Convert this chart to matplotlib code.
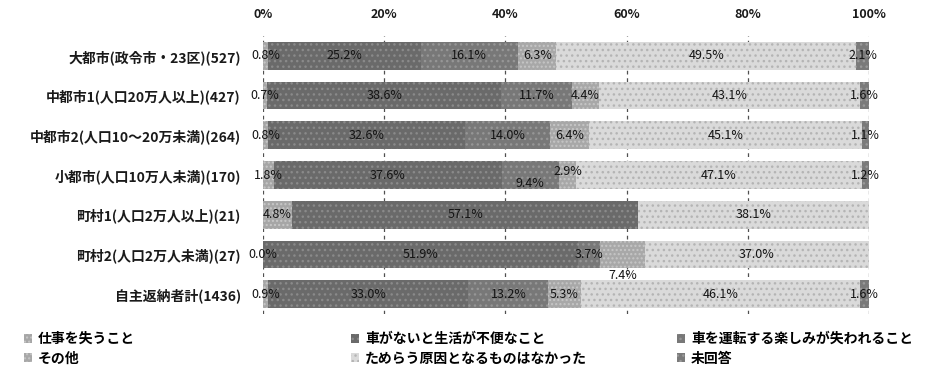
import numpy as np
import matplotlib
matplotlib.use('Agg')
import matplotlib.pyplot as plt
from matplotlib.patches import Patch

plt.rcParams['font.family'] = ['Noto Sans CJK JP', 'DejaVu Sans']

categories = ['大都市(政令市・23区)(527)', '中都市1(人口20万人以上)(427)',
              '中都市2(人口10～20万未満)(264)', '小都市(人口10万人未満)(170)',
              '町村1(人口2万人以上)(21)', '町村2(人口2万人未満)(27)',
              '自主返納者計(1436)']
series_names = ['仕事を失うこと', '車がないと生活が不便なこと', '車を運転する楽しみが失われること',
                'その他', 'ためらう原因となるものはなかった', '未回答']

# percent per category; nan = no answer in that group (no label drawn)
job_loss = [0.8, 0.7, 0.8, 1.8, 4.8, 0.0, 0.9]
inconvenient = [25.2, 38.6, 32.6, 37.6, 57.1, 51.9, 33.0]
lose_fun = [16.1, 11.7, 14.0, 9.4, np.nan, 3.7, 13.2]
other = [6.3, 4.4, 6.4, 2.9, np.nan, 7.4, 5.3]
no_hesitation = [49.5, 43.1, 45.1, 47.1, 38.1, 37.0, 46.1]
no_answer = [2.1, 1.6, 1.1, 1.2, np.nan, np.nan, 1.6]

xticks = [0, 20, 40, 60, 80, 100]

series = [job_loss, inconvenient, lose_fun, other, no_hesitation, no_answer]
face = ['#a6a6a6', '#6a6a6a', '#787878', '#a8a8a8', '#dadada', '#7a7a7a']
hatchc = ['#c8c8c8', '#8a8a8a', '#969696', '#c6c6c6', '#b4b4b4', '#9a9a9a']
hatches = ['....', '...', '...', '....', '...', '...']

fig = plt.figure(figsize=(9.31, 3.75), dpi=100)
ax = fig.add_axes([263/931, 1-314/375, 606/931, 278/375])

y = np.arange(len(categories))
ax.set_xlim(0, 100)
ax.set_ylim(6.5, -0.5)

for xv in xticks:
    ax.axvline(xv, color='#505050', lw=0.9, ls=(0, (3, 3)), zorder=0)

# small nudges for labels that would collide
nudge = {(3, 2): 0.22, (3, 3): -0.08, (5, 3): 0.52}

left = np.zeros(len(categories))
for k, vals in enumerate(series):
    v = np.nan_to_num(np.array(vals, dtype=float))
    ax.barh(y, v, left=left, height=0.7, color=face[k], edgecolor=hatchc[k],
            hatch=hatches[k], linewidth=0, zorder=2, label=series_names[k])
    for i, val in enumerate(vals):
        if np.isnan(val):
            continue
        ax.text(left[i] + v[i] / 2, y[i] + nudge.get((i, k), 0), f'{val:.1f}%',
                ha='center', va='center', fontsize=9, color='#141414', zorder=4)
    left += v

ax.set_yticks(y)
ax.set_yticklabels(categories, fontsize=10, fontweight='bold', color='#1a1a1a')
ax.set_xticks(xticks)
ax.set_xticklabels([f'{t}%' for t in xticks], fontsize=9, fontweight='bold', color='#1a1a1a')
ax.xaxis.tick_top()
ax.tick_params(axis='x', length=0, pad=11)
ax.tick_params(axis='y', length=0, pad=16)
for s in ax.spines.values():
    s.set_visible(False)

# legend as three columns of two entries each
handles = [Patch(facecolor=face[k], edgecolor=hatchc[k], hatch=hatches[k], linewidth=0)
           for k in range(6)]
col_x = [24/931, 351/931, 677/931]
for c in range(3):
    leg = fig.legend([handles[c], handles[c + 3]], [series_names[c], series_names[c + 3]],
                     loc='upper left', bbox_to_anchor=(col_x[c], 1 - 332/375),
                     frameon=False, prop={'size': 10, 'weight': 'bold'},
                     handlelength=0.6, handleheight=0.6, handletextpad=0.4,
                     labelspacing=0.4, borderaxespad=0, borderpad=0)

fig.savefig('out.png', dpi=100, facecolor='white')
